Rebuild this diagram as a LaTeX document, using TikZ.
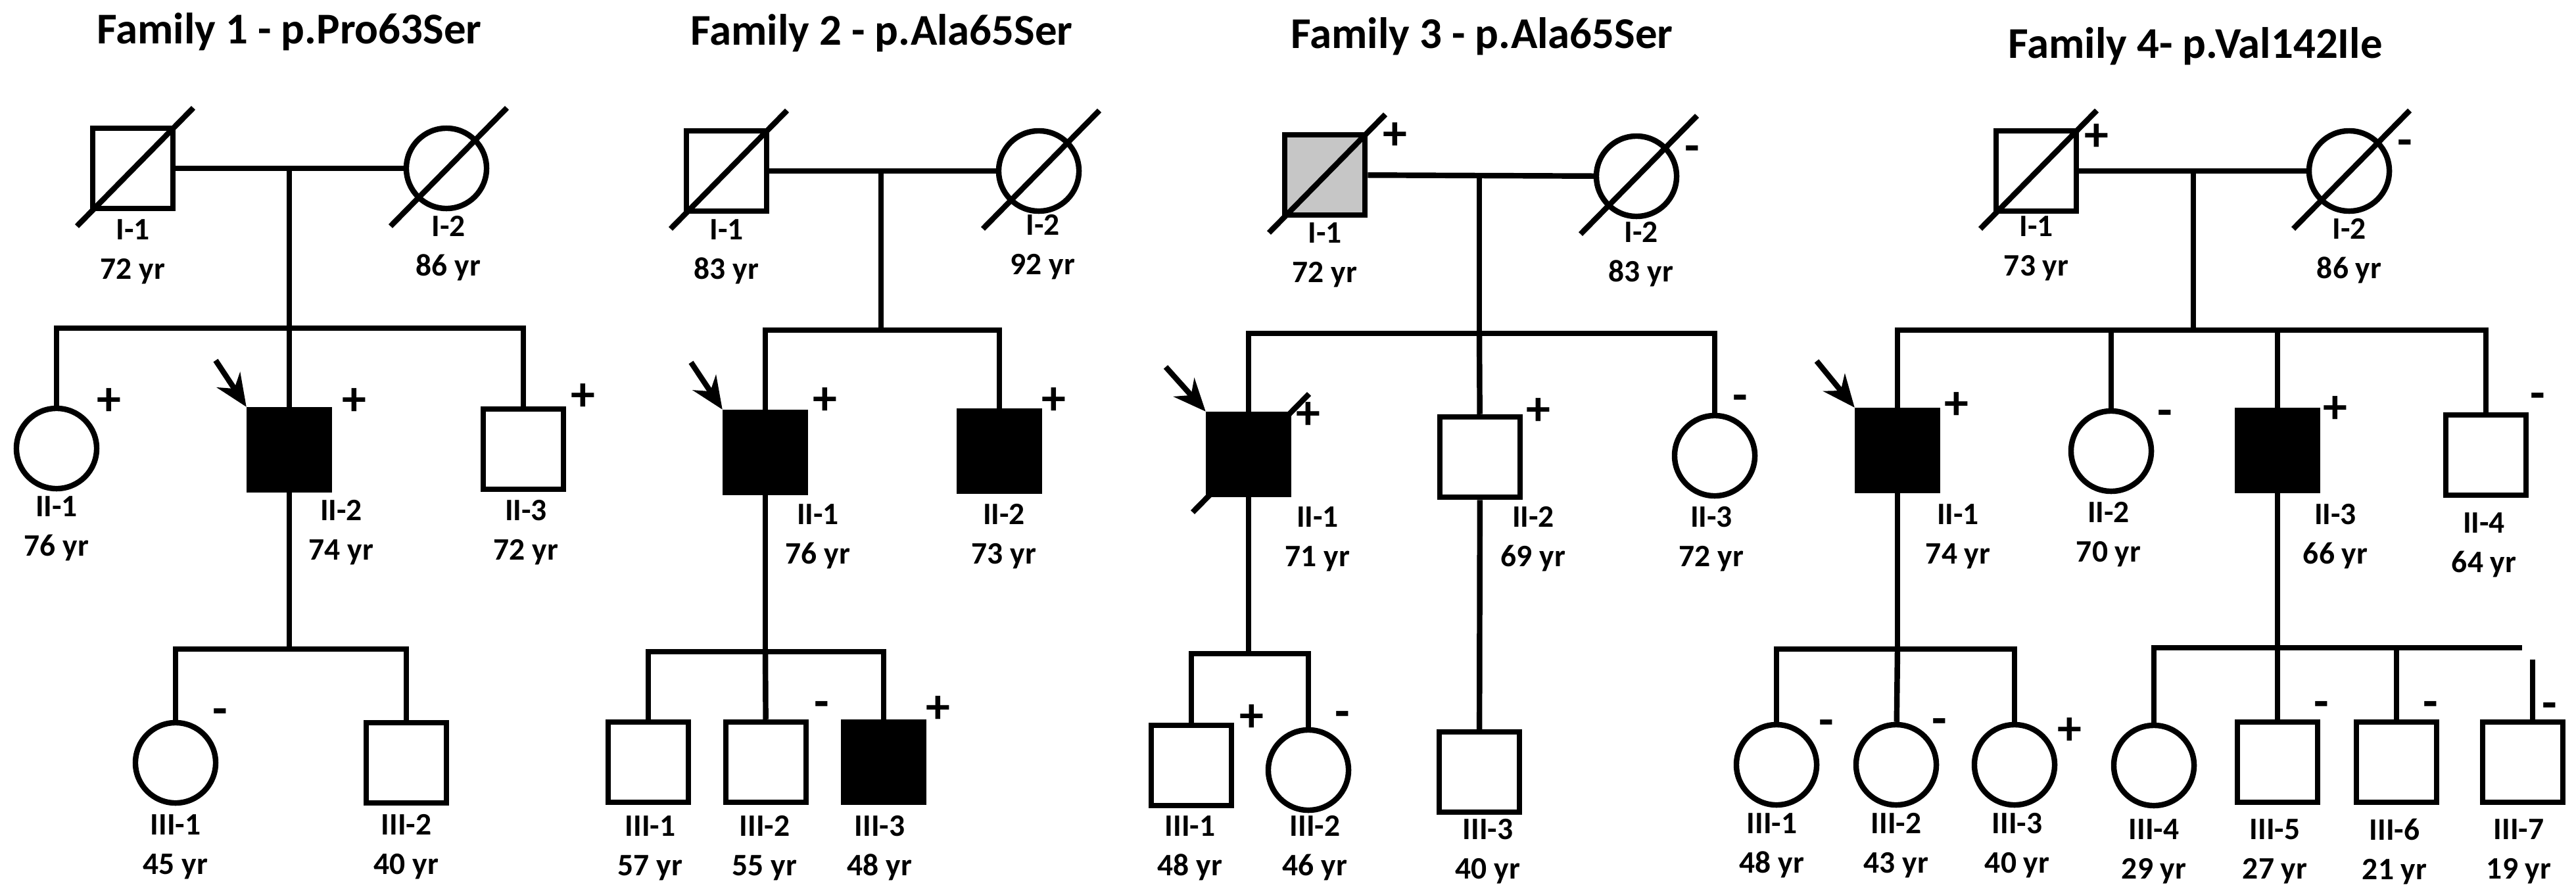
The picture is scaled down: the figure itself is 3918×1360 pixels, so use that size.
\documentclass[tikz,border=0pt]{standalone}
\usepackage{fontspec}
\setmainfont{Carlito}
\usetikzlibrary{arrows.meta}
\tikzset{
  Ind/.style={draw, line width=2.4pt, minimum size=1.22cm, inner sep=0pt},
  Male/.style={Ind, rectangle},
  Female/.style={Ind, circle},
  Aff/.style={fill=black},
  Line/.style={line width=2.4pt},
  Lbl/.style={font=\fontsize{13.5}{17}\selectfont\bfseries, align=center},
  Sgn/.style={font=\fontsize{21}{21}\selectfont\bfseries},
  Ttl/.style={font=\fontsize{19}{22}\selectfont\bfseries},
  Proband/.style={Line, -{Stealth[length=14pt,width=12pt]}}
}
\newcommand{\dead}[1]{\draw[Line] ([shift={(-85,88)}]#1.center) -- ([shift={(92,-92)}]#1.center);}
\begin{document}
\begin{tikzpicture}[x=0.01cm, y=-0.01cm]
  \useasboundingbox (0,0) rectangle (3918,1360);
  % Family 1
  \node[Ttl] (t1) at (440,48) {Family 1 - p.Pro63Ser};
  \node[Male] (f1I1) at (202,256) {};
  \node[Female] (f1I2) at (679,256) {};
  \dead{f1I1} \dead{f1I2}
  \node[Female] (f1II1) at (86,682) {};
  \node[Male, Aff] (f1II2) at (440,684) {};
  \node[Male] (f1II3) at (796,683) {};
  \node[Female] (f1III1) at (267,1160) {};
  \node[Male] (f1III2) at (618,1160) {};
  \coordinate (f1m) at (440,257);
  \coordinate (f1s) at (440,499);
  \coordinate (f1s2) at (440,987);
  \draw[Line] (f1I1) -- (f1I2);
  \draw[Line] (f1m) -- (f1s);
  \draw[Line] (f1II1.north) |- (f1s) -| (f1II3.north);
  \draw[Line] (f1s) -- (f1II2);
  \draw[Line] (f1II2) -- (f1s2);
  \draw[Line] (f1III1.north) |- (f1s2) -| (f1III2.north);
  \coordinate (f1a) at (328,548);
  \draw[Proband] (f1a) -- (f1II2.north west);
  \node[Sgn] (f1p1) at (166,611) {+};
  \node[Sgn] (f1p2) at (539,611) {+};
  \node[Sgn] (f1p3) at (887,604) {+};
  \node[Sgn] (f1p4) at (335,1090) {-};
  \node[Lbl] (f1l1) at (202,383) {I-1\\72 yr};
  \node[Lbl] (f1l2) at (682,378) {I-2\\86 yr};
  \node[Lbl] (f1l3) at (86,804) {II-1\\76 yr};
  \node[Lbl] (f1l4) at (519,810) {II-2\\74 yr};
  \node[Lbl] (f1l5) at (800,810) {II-3\\72 yr};
  \node[Lbl] (f1l6) at (267,1288) {III-1\\45 yr};
  \node[Lbl] (f1l7) at (618,1288) {III-2\\40 yr};
  % Family 2
  \node[Ttl] (t2) at (1341,50) {Family 2 - p.Ala65Ser};
  \node[Male] (f2I1) at (1105,260) {};
  \node[Female] (f2I2) at (1580,260) {};
  \dead{f2I1} \dead{f2I2}
  \node[Male, Aff] (f2II1) at (1164,688) {};
  \node[Male, Aff] (f2II2) at (1520,686) {};
  \node[Male] (f2III1) at (986,1159) {};
  \node[Male] (f2III2) at (1165,1159) {};
  \node[Male, Aff] (f2III3) at (1344,1159) {};
  \coordinate (f2m) at (1340,262);
  \coordinate (f2s) at (1340,502);
  \coordinate (f2s2) at (1164,991);
  \draw[Line] (f2I1) -- (f2I2);
  \draw[Line] (f2m) -- (f2s);
  \draw[Line] (f2II1.north) |- (f2s) -| (f2II2.north);
  \draw[Line] (f2II1) -- (f2s2);
  \draw[Line] (f2III1.north) |- (f2s2) -| (f2III3.north);
  \draw[Line] (f2s2) -- (f2III2);
  \coordinate (f2a) at (1051,551);
  \draw[Proband] (f2a) -- (f2II1.north west);
  \node[Sgn] (f2p1) at (1255,610) {+};
  \node[Sgn] (f2p2) at (1603,610) {+};
  \node[Sgn] (f2p3) at (1250,1079) {-};
  \node[Sgn] (f2p4) at (1427,1079) {+};
  \node[Lbl] (f2l1) at (1105,383) {I-1\\83 yr};
  \node[Lbl] (f2l2) at (1586,376) {I-2\\92 yr};
  \node[Lbl] (f2l3) at (1244,816) {II-1\\76 yr};
  \node[Lbl] (f2l4) at (1527,816) {II-2\\73 yr};
  \node[Lbl] (f2l5) at (989,1290) {III-1\\57 yr};
  \node[Lbl] (f2l6) at (1163,1290) {III-2\\55 yr};
  \node[Lbl] (f2l7) at (1338,1290) {III-3\\48 yr};
  % Family 3
  \node[Ttl] (t3) at (2254,55) {Family 3 - p.Ala65Ser};
  \node[Male, fill=gray!45] (f3I1) at (2015,266) {};
  \node[Female] (f3I2) at (2489,268) {};
  \dead{f3I1} \dead{f3I2}
  \node[Male, Aff] (f3II1) at (1899,691) {};
  \node[Male] (f3II2) at (2251,695) {};
  \node[Female] (f3II3) at (2608,693) {};
  \dead{f3II1}
  \node[Male] (f3III1) at (1812,1164) {};
  \node[Female] (f3III2) at (1990,1171) {};
  \node[Male] (f3III3) at (2250,1174) {};
  \coordinate (f3m) at (2250,268);
  \coordinate (f3s) at (2250,507);
  \coordinate (f3s2) at (1899,994);
  \draw[Line] (f3I1) -- (f3I2);
  \draw[Line] (f3m) -- (f3s);
  \draw[Line] (f3II1.north) |- (f3s) -| (f3II3.north);
  \draw[Line] (f3s) -- (f3II2);
  \draw[Line] (f3II2) -- (f3III3);
  \draw[Line] (f3II1) -- (f3s2);
  \draw[Line] (f3III1.north) |- (f3s2) -| (f3III2.north);
  \coordinate (f3a) at (1773,558);
  \draw[Proband] (f3a) -- (f3II1.north west);
  \node[Sgn] (f3p1) at (2122,207) {+};
  \node[Sgn] (f3p2) at (2574,234) {-};
  \node[Sgn] (f3p3) at (1990,632) {+};
  \node[Sgn] (f3p4) at (2340,626) {+};
  \node[Sgn] (f3p5) at (2647,613) {-};
  \node[Sgn] (f3p6) at (1904,1092) {+};
  \node[Sgn] (f3p7) at (2042,1094) {-};
  \node[Lbl] (f3l1) at (2015,388) {I-1\\72 yr};
  \node[Lbl] (f3l2) at (2496,387) {I-2\\83 yr};
  \node[Lbl] (f3l3) at (2004,820) {II-1\\71 yr};
  \node[Lbl] (f3l4) at (2332,820) {II-2\\69 yr};
  \node[Lbl] (f3l5) at (2603,820) {II-3\\72 yr};
  \node[Lbl] (f3l6) at (1810,1290) {III-1\\48 yr};
  \node[Lbl] (f3l7) at (2000,1290) {III-2\\46 yr};
  \node[Lbl] (f3l8) at (2263,1295) {III-3\\40 yr};
  % Family 4
  \node[Ttl] (t4) at (3339,70) {Family 4- p.Val142Ile};
  \node[Male] (f4I1) at (3097,260) {};
  \node[Female] (f4I2) at (3573,260) {};
  \dead{f4I1} \dead{f4I2}
  \node[Male, Aff] (f4II1) at (2886,685) {};
  \node[Female] (f4II2) at (3211,686) {};
  \node[Male, Aff] (f4II3) at (3464,685) {};
  \node[Male] (f4II4) at (3781,692) {};
  \node[Female] (f4III1) at (2702,1163) {};
  \node[Female] (f4III2) at (2884,1163) {};
  \node[Female] (f4III3) at (3064,1163) {};
  \node[Female] (f4III4) at (3276,1164) {};
  \node[Male] (f4III5) at (3464,1159) {};
  \node[Male] (f4III6) at (3645,1159) {};
  \node[Male] (f4III7) at (3837,1159) {};
  \coordinate (f4m) at (3336,259);
  \coordinate (f4s) at (3336,502);
  \coordinate (f4s2) at (2886,987);
  \coordinate (f4s3) at (3464,985);
  \coordinate (f4e) at (3836,985);
  \coordinate (f4t) at (3852,1003);
  \draw[Line] (f4I1) -- (f4I2);
  \draw[Line] (f4m) -- (f4s);
  \draw[Line] (f4II1.north) |- (f4s) -| (f4II4.north);
  \draw[Line] (f4II2.north) -- (f4II2.north |- f4s);
  \draw[Line] (f4II3.north) -- (f4II3.north |- f4s);
  \draw[Line] (f4II1) -- (f4s2);
  \draw[Line] (f4III1.north) |- (f4s2) -| (f4III3.north);
  \draw[Line] (f4s2) -- (f4III2);
  \draw[Line] (f4II3) -- (f4s3);
  \draw[Line] (f4III4.north) |- (f4e);
  \draw[Line] (f4s3) -- (f4III5);
  \draw[Line] (f4III6.north) -- (f4III6.north |- f4s3);
  \draw[Line] (f4t) -- (f4t |- f4III7.north);
  \coordinate (f4a) at (2763,549);
  \draw[Proband] (f4a) -- (f4II1.north west);
  \node[Sgn] (f4p1) at (3189,209) {+};
  \node[Sgn] (f4p2) at (3658,225) {-};
  \node[Sgn] (f4p3) at (2976,617) {+};
  \node[Sgn] (f4p4) at (3293,636) {-};
  \node[Sgn] (f4p5) at (3552,623) {+};
  \node[Sgn] (f4p6) at (3860,610) {-};
  \node[Sgn] (f4p7) at (2778,1107) {-};
  \node[Sgn] (f4p8) at (2950,1105) {-};
  \node[Sgn] (f4p9) at (3148,1112) {+};
  \node[Sgn] (f4p10) at (3531,1079) {-};
  \node[Sgn] (f4p11) at (3697,1079) {-};
  \node[Sgn] (f4p12) at (3878,1081) {-};
  \node[Lbl] (f4l1) at (3097,378) {I-1\\73 yr};
  \node[Lbl] (f4l2) at (3573,382) {I-2\\86 yr};
  \node[Lbl] (f4l3) at (2978,816) {II-1\\74 yr};
  \node[Lbl] (f4l4) at (3207,813) {II-2\\70 yr};
  \node[Lbl] (f4l5) at (3552,816) {II-3\\66 yr};
  \node[Lbl] (f4l6) at (3778,829) {II-4\\64 yr};
  \node[Lbl] (f4l7) at (2695,1286) {III-1\\48 yr};
  \node[Lbl] (f4l8) at (2884,1286) {III-2\\43 yr};
  \node[Lbl] (f4l9) at (3068,1286) {III-3\\40 yr};
  \node[Lbl] (f4l10) at (3276,1295) {III-4\\29 yr};
  \node[Lbl] (f4l11) at (3460,1295) {III-5\\27 yr};
  \node[Lbl] (f4l12) at (3642,1295) {III-6\\21 yr};
  \node[Lbl] (f4l13) at (3831,1295) {III-7\\19 yr};
\end{tikzpicture}
\end{document}
